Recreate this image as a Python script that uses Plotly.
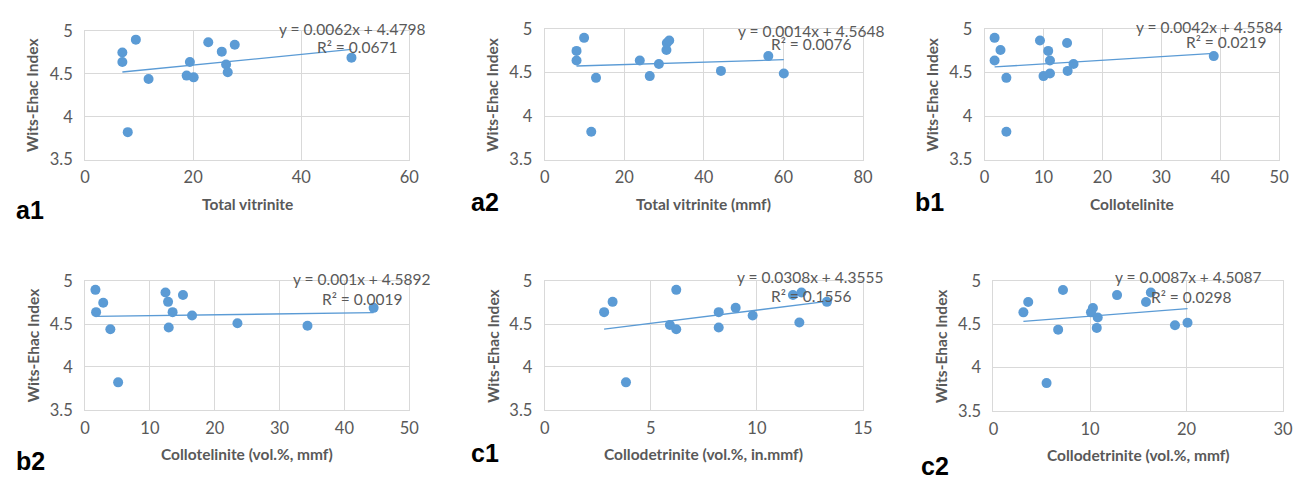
import plotly.graph_objects as go

W, H = 1301, 484

# Wits-Ehac Index values per panel
a1_x = [6.9, 6.9, 9.4, 7.9, 11.75, 18.8, 19.4, 20.1, 22.8, 25.3, 26.1, 26.4, 27.7, 49.3]
a1_y = [4.75, 4.64, 4.90, 3.82, 4.44, 4.48, 4.64, 4.46, 4.87, 4.76, 4.61, 4.52, 4.84, 4.69]

a2_x = [8.0, 8.0, 9.9, 11.7, 12.9, 23.9, 26.4, 28.7, 30.6, 30.7, 31.3, 44.3, 56.2, 60.1]
a2_y = [4.75, 4.64, 4.90, 3.82, 4.44, 4.64, 4.46, 4.60, 4.76, 4.84, 4.87, 4.52, 4.69, 4.49]

b1_x = [1.7, 1.7, 2.7, 3.7, 3.7, 9.4, 10.0, 10.8, 11.1, 11.1, 14.0, 14.1, 15.1, 38.9]
b1_y = [4.90, 4.64, 4.76, 4.44, 3.82, 4.87, 4.46, 4.75, 4.64, 4.49, 4.84, 4.52, 4.60, 4.69]

b2_x = [1.6, 1.7, 2.8, 3.9, 5.1, 12.4, 12.8, 12.9, 13.5, 15.1, 16.5, 23.5, 34.3, 44.5]
b2_y = [4.90, 4.64, 4.75, 4.44, 3.82, 4.87, 4.76, 4.46, 4.64, 4.84, 4.60, 4.51, 4.48, 4.69]

c1_x = [2.8, 3.2, 3.83, 5.9, 6.2, 6.2, 8.2, 8.2, 9.0, 9.8, 11.7, 12.0, 12.1, 13.3]
c1_y = [4.64, 4.76, 3.82, 4.49, 4.90, 4.44, 4.64, 4.46, 4.69, 4.60, 4.84, 4.52, 4.87, 4.76]

c2_x = [3.1, 3.6, 7.2, 6.7, 5.5, 10.3, 10.1, 10.8, 10.7, 12.8, 16.3, 15.8, 18.8, 20.1]
c2_y = [4.64, 4.76, 4.90, 4.44, 3.82, 4.69, 4.64, 4.58, 4.46, 4.84, 4.87, 4.76, 4.49, 4.52]

# trendline coefficients as printed on the chart
slopes = [0.0062, 0.0014, 0.0042, 0.001, 0.0308, 0.0087]
intercepts = [4.4798, 4.5648, 4.5584, 4.5892, 4.3555, 4.5087]
eq_texts = ["y = 0.0062x + 4.4798", "y = 0.0014x + 4.5648", "y = 0.0042x + 4.5584",
            "y = 0.001x + 4.5892", "y = 0.0308x + 4.3555", "y = 0.0087x + 4.5087"]
r2_texts = ["R² = 0.0671", "R² = 0.0076", "R² = 0.0219",
            "R² = 0.0019", "R² = 0.1556", "R² = 0.0298"]
x_titles = ["Total vitrinite", "Total vitrinite (mmf)", "Collotelinite",
            "Collotelinite (vol.%, mmf)", "Collodetrinite (vol.%, in.mmf)", "Collodetrinite (vol.%, mmf)"]
panel_labels = ["a1", "a2", "b1", "b2", "c1", "c2"]
x_max = [60, 80, 50, 50, 15, 30]
x_dtick = [20, 20, 10, 10, 5, 10]
y_ticks = [3.5, 4, 4.5, 5]
y_title = "Wits-Ehac Index"

xs = [a1_x, a2_x, b1_x, b2_x, c1_x, c2_x]
ys = [a1_y, a2_y, b1_y, b2_y, c1_y, c2_y]

# layout geometry (pixels)
plot_px = [(81, 409, 22, 156), (546, 868, 20, 156), (991, 1289, 20, 156),
           (81, 409, 283, 417), (546, 868, 283, 417), (1000, 1293, 283, 418)]
eq_pos = [(427, 20, 399, 39), (891, 22, 858, 35), (1294, 18, 1278, 33),
          (432, 281, 404, 301), (890, 278, 858, 298), (1273, 278, 1242, 299)]
label_pos = [(9, 209), (469, 200), (919, 200), (9, 470), (469, 462), (925, 476)]

BLUE = "#5B9BD5"
GRAY = "#595959"
GRID = "#D9D9D9"
FONT = "Lato"

def px(x):
    return x / W

def py(y):
    return 1 - y / H

fig = go.Figure()
annotations = []
for i in range(6):
    n = "" if i == 0 else str(i + 1)
    xa, ya = "x" + n, "y" + n
    x0, x1, y0, y1 = plot_px[i]
    fig.add_trace(go.Scatter(x=xs[i], y=ys[i], mode="markers", xaxis=xa, yaxis=ya,
                             marker=dict(color=BLUE, size=10), showlegend=False))
    lo, hi = min(xs[i]), max(xs[i])
    fig.add_trace(go.Scatter(x=[lo, hi], y=[slopes[i] * lo + intercepts[i], slopes[i] * hi + intercepts[i]],
                             mode="lines", xaxis=xa, yaxis=ya,
                             line=dict(color=BLUE, width=1.3), showlegend=False))
    axcommon = dict(showgrid=True, gridcolor=GRID, gridwidth=1, showline=True, linecolor=GRID,
                    linewidth=1, mirror=True, zeroline=False, ticks="",
                    tickfont=dict(family=FONT, size=16.5, color=GRAY))
    fig.layout["xaxis" + n] = dict(axcommon, domain=[px(x0), px(x1)], range=[0, x_max[i]],
                                   dtick=x_dtick[i], tick0=0, anchor=ya, ticklabelstandoff=3)
    fig.layout["yaxis" + n] = dict(axcommon, domain=[py(y1), py(y0)], range=[3.5, 5],
                                   tickvals=y_ticks, ticktext=["3.5", "4", "4.5", "5"], anchor=xa,
                                   ticklabelstandoff=8)
    # axis titles
    annotations.append(dict(text="<b>" + x_titles[i] + "</b>", xref="paper", yref="paper",
                            x=px((x0 + x1) / 2), y=py(y1 + 46), showarrow=False,
                            font=dict(family=FONT, size=15.5, color=GRAY), xanchor="center", yanchor="middle"))
    annotations.append(dict(text="<b>" + y_title + "</b>", xref="paper", yref="paper",
                            x=px(x0 - 53), y=py((y0 + y1) / 2), showarrow=False, textangle=-90,
                            font=dict(family=FONT, size=15.5, color=GRAY), xanchor="center", yanchor="middle"))
    ex, ey, rx, ry = eq_pos[i]
    annotations.append(dict(text=eq_texts[i], xref="paper", yref="paper", x=px(ex), y=py(ey),
                            showarrow=False, xanchor="right", yanchor="middle",
                            font=dict(family=FONT, size=15.5, color=GRAY)))
    annotations.append(dict(text=r2_texts[i], xref="paper", yref="paper", x=px(rx), y=py(ry),
                            showarrow=False, xanchor="right", yanchor="middle",
                            font=dict(family=FONT, size=15.5, color=GRAY)))
    lx, ly = label_pos[i]
    annotations.append(dict(text="<b>" + panel_labels[i] + "</b>", xref="paper", yref="paper",
                            x=px(lx), y=py(ly), showarrow=False, xanchor="left", yanchor="middle",
                            font=dict(family="Liberation Sans", size=25, color="black")))

fig.update_layout(width=W, height=H, margin=dict(l=0, r=0, t=0, b=0),
                  paper_bgcolor="white", plot_bgcolor="white", annotations=annotations)
fig.write_html("out.html")
